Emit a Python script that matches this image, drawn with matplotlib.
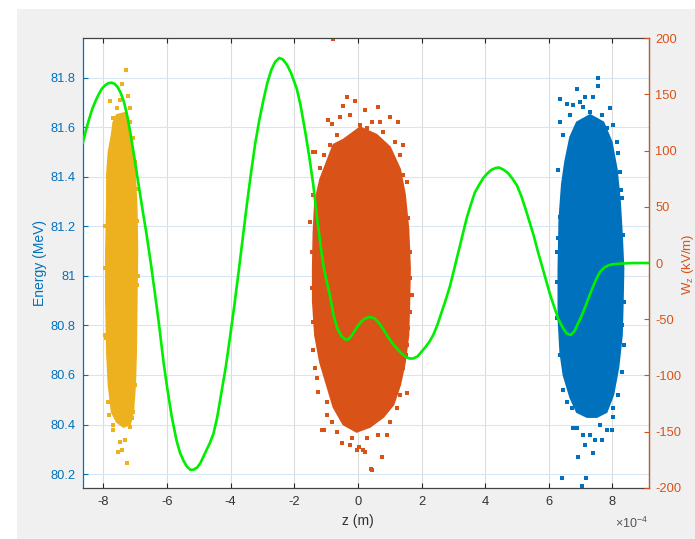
import matplotlib
matplotlib.use('Agg')
import matplotlib.pyplot as plt
from matplotlib.patches import Rectangle

plt.rcParams['font.family'] = ['Liberation Sans', 'DejaVu Sans']
plt.rcParams['mathtext.default'] = 'regular'

# ---------------- data (z in units of 1e-4 m) ----------------
wake_z = [-8.65, -8.55, -8.45, -8.35, -8.25, -8.15, -8.05, -7.95, -7.85, -7.74,
          -7.65, -7.55, -7.45, -7.35, -7.25, -7.16, -7.05, -6.95, -6.85, -6.75,
          -6.64, -6.50, -6.38, -6.25, -6.11, -6.00, -5.85, -5.70, -5.59, -5.48,
          -5.38, -5.27, -5.17, -5.05, -4.95, -4.85, -4.75, -4.65, -4.54, -4.42,
          -4.30, -4.15, -4.02, -3.88, -3.75, -3.62, -3.49, -3.36, -3.23, -3.10,
          -2.97, -2.85, -2.72, -2.60, -2.47, -2.35, -2.22, -2.10, -1.92, -1.80,
          -1.65, -1.52, -1.40, -1.29, -1.18, -1.08, -0.97, -0.87, -0.77, -0.65,
          -0.52, -0.40, -0.30, -0.18, -0.05, 0.08, 0.20, 0.35, 0.51, 0.65,
          0.80, 0.95, 1.10, 1.22, 1.35, 1.50, 1.62, 1.74, 1.88, 2.00,
          2.12, 2.25, 2.37, 2.50, 2.63, 2.77, 2.90, 3.03, 3.16, 3.29,
          3.42, 3.55, 3.68, 3.82, 3.95, 4.08, 4.20, 4.32, 4.44, 4.58,
          4.72, 4.86, 5.00, 5.13, 5.26, 5.39, 5.52, 5.65, 5.78, 5.91,
          6.04, 6.18, 6.30, 6.45, 6.57, 6.69, 6.80, 6.90, 7.00, 7.09,
          7.20, 7.35, 7.48, 7.61, 7.75, 7.88, 8.03, 8.30, 8.66, 9.15]
wake_W = [106.5, 118, 128, 137, 144, 150, 155, 158, 160, 160.5,
          159.5, 156.5, 151, 143, 131, 117, 98, 80, 62, 44,
          25, -2, -27, -55, -88, -110, -137, -158, -169, -176,
          -181, -184, -184, -182, -178, -172, -166, -160, -152, -137,
          -117, -92, -66, -37, -8, 22, 52, 80, 106, 127,
          145, 160, 172, 179, 182.5, 181, 176, 169, 155, 140,
          116, 93, 69, 42, 17, -3, -18, -30, -46, -58,
          -65, -68, -68, -64, -58, -53, -50, -48, -49, -53,
          -59, -66, -72, -76, -80, -83.5, -85, -85, -83, -79,
          -75, -70, -64, -55, -44, -32, -20, -5, 10, 25,
          40, 52, 63, 70, 76, 80, 83, 84.5, 85, 83,
          80, 75, 69, 60, 49, 37, 25, 11, -2, -15,
          -28, -40, -50, -58, -63, -64, -61, -55, -49, -43,
          -35, -24, -15, -8, -4, -2, -1, -0.5, 0, 0]

yellow_core_z = [-7.58, -7.27, -7.16, -7.06, -7.00, -6.95, -6.93, -6.95, -6.97, -7.00,
                 -7.06, -7.16, -7.37, -7.58, -7.74, -7.84, -7.89, -7.92, -7.92, -7.89,
                 -7.89, -7.84, -7.74, -7.69]
yellow_core_E = [81.65, 81.66, 81.58, 81.50, 81.41, 81.27, 81.10, 80.90, 80.69, 80.56,
                 80.45, 80.40, 80.39, 80.41, 80.45, 80.56, 80.69, 80.90, 81.10, 81.30,
                 81.41, 81.50, 81.57, 81.62]
yellow_dots_z = [-7.30, -7.40, -7.23, -7.79, -7.48, -7.58, -7.16, -7.06, -7.00, -7.69,
                 -7.48, -7.32, -7.42, -7.27, -7.53, -7.16, -7.06, -7.00, -7.81, -7.94,
                 -6.92, -7.93, -6.94, -7.95, -7.95, -6.93, -6.93, -7.69, -7.16, -7.69,
                 -7.11, -7.84]
yellow_dots_E = [81.831, 81.773, 81.726, 81.707, 81.71, 81.676, 81.676, 81.555, 81.46, 80.378,
                 80.33, 80.337, 80.297, 80.243, 80.29, 80.391, 80.452, 80.56, 80.438, 81.2,
                 81.0, 80.75, 81.35, 81.031, 80.76, 80.963, 81.22, 81.636, 81.622, 80.398,
                 80.425, 80.492]

orange_core_z = [-0.46, 0.07, 0.59, 1.01, 1.33, 1.48, 1.59, 1.64, 1.62, 1.59,
                 1.48, 1.33, 1.12, 0.80, 0.38, -0.04, -0.46, -0.77, -0.98, -1.19,
                 -1.35, -1.42, -1.42, -1.40, -1.35, -1.19, -0.98, -0.77]
orange_core_E = [81.55, 81.60, 81.57, 81.52, 81.43, 81.33, 81.19, 81.03, 80.90, 80.76,
                 80.65, 80.56, 80.48, 80.43, 80.39, 80.37, 80.40, 80.47, 80.56, 80.65,
                 80.76, 80.90, 81.03, 81.17, 81.30, 81.39, 81.46, 81.53]
orange_dots_z = [-0.35, -0.09, -0.46, -0.82, -0.56, -0.25, 0.23, 0.64, 1.01, 1.27,
                 0.44, -1.35, -1.08, -1.50, -1.40, 1.43, 1.54, 1.59, 1.64, 1.64,
                 1.59, 1.54, 1.43, 1.54, 1.33, -1.08, -0.82, -0.51, -0.19, 0.02,
                 0.17, 0.44, 0.75, 0.91, 0.64, -1.35, -1.40, -1.24, -0.79, -0.93,
                 -1.40, -1.45, -1.29, -0.98, -1.13, -0.03, 0.41, 0.23,
                 -1.19, -0.87, -0.66, 0.28, 0.80, 1.17, 1.33, 0.70, 0.07, 1.43,
                 -1.45, -1.45, -1.42, 1.54, 1.69, 1.64, 1.52,
                 -0.98, -0.66, -0.25, 0.28, 1.01, 1.22]
orange_dots_E = [81.723, 81.707, 81.687, 81.612, 81.643, 81.649, 81.670, 81.683, 81.643, 81.620,
                 81.622, 81.501, 81.488, 81.219, 81.326, 81.528, 81.380, 81.232, 81.098, 80.990,
                 80.788, 80.721, 80.627, 80.526, 80.519, 80.378, 80.411, 80.324, 80.344, 80.310,
                 80.297, 80.216, 80.270, 80.357, 80.357, 80.627, 80.701, 80.532, 81.956, 81.629,
                 81.501, 81.098, 80.586, 80.438, 80.378, 80.297, 80.22, 80.29,
                 81.434, 81.528, 81.569, 81.596, 81.582, 81.542, 81.488, 81.622, 81.609, 81.407,
                 81.098, 80.950, 80.815, 81.165, 80.923, 80.855, 80.68,
                 80.492, 80.371, 80.317, 80.344, 80.411, 80.465]

blue_core_z = [6.88, 7.30, 7.72, 7.98, 8.14, 8.24, 8.30, 8.35, 8.33, 8.30,
               8.19, 8.03, 7.82, 7.51, 7.20, 6.88, 6.67, 6.46, 6.36, 6.30,
               6.30, 6.33, 6.41, 6.51, 6.67]
blue_core_E = [81.62, 81.65, 81.62, 81.54, 81.43, 81.30, 81.17, 81.03, 80.90, 80.76,
               80.63, 80.52, 80.45, 80.43, 80.43, 80.45, 80.51, 80.60, 80.69, 80.83,
               81.03, 81.23, 81.37, 81.46, 81.56]
blue_dots_z = [7.56, 7.54, 6.88, 7.14, 7.40, 6.99, 6.77, 6.57, 6.36, 7.93,
               8.03, 8.14, 8.19, 8.24, 8.26, 8.30, 6.36, 6.30, 6.36, 6.30,
               6.25, 8.35, 8.30, 8.19, 8.03, 7.98, 7.82, 7.67, 7.40, 6.93,
               7.14, 7.09, 6.77, 6.72, 6.57, 6.46, 6.41, 7.17, 7.04,
               6.67, 7.09, 7.67, 7.82, 6.46, 7.30, 6.27, 6.27, 6.36, 8.33,
               8.37, 8.30, 6.88, 7.30, 7.61, 8.03, 7.46]
blue_dots_E = [81.798, 81.766, 81.753, 81.723, 81.723, 81.703, 81.690, 81.693, 81.713, 81.679,
               81.609, 81.542, 81.495, 81.420, 81.347, 81.313, 81.622, 81.427, 81.239, 81.152,
               80.976, 80.721, 80.613, 80.519, 80.431, 80.378, 80.378, 80.337, 80.284, 80.270,
               80.317, 80.357, 80.385, 80.465, 80.492, 80.539, 80.183, 80.183, 80.15,
               81.649, 81.683, 81.649, 81.596, 81.569, 81.66, 81.098, 80.829, 80.68, 81.165,
               80.896, 80.80, 80.385, 80.357, 80.398, 80.465, 80.337]

x_ticks = [-8, -6, -4, -2, 0, 2, 4, 6, 8]
e_ticks = [80.2, 80.4, 80.6, 80.8, 81.0, 81.2, 81.4, 81.6, 81.8]
e_tick_labels = ['80.2', '80.4', '80.6', '80.8', '81', '81.2', '81.4', '81.6', '81.8']
w_ticks = [-200, -150, -100, -50, 0, 50, 100, 150, 200]

# ---------------- style ----------------
C_BLUE = '#0072BD'
C_ORANGE = '#D95319'
C_YELLOW = '#EDB120'
C_AX = '#262626'

fig = plt.figure(figsize=(6.95, 5.39), dpi=100, facecolor='white')
fig.patches.append(Rectangle((17 / 695, 0), 1, (539 - 9) / 539, transform=fig.transFigure,
                             facecolor='#f0f0f0', edgecolor='none', zorder=-10))

ax = fig.add_axes([82.7 / 695, (539 - 487.7) / 539, (649 - 82.7) / 695, (487.7 - 38.3) / 539])
ax.set_facecolor('white')
ax.set_axisbelow(True)

for cz, cE, dz, dE, col in [(yellow_core_z, yellow_core_E, yellow_dots_z, yellow_dots_E, C_YELLOW),
                            (orange_core_z, orange_core_E, orange_dots_z, orange_dots_E, C_ORANGE),
                            (blue_core_z, blue_core_E, blue_dots_z, blue_dots_E, C_BLUE)]:
    ax.fill(cz, cE, facecolor=col, edgecolor=col, linewidth=1.2, zorder=2)
    ax.scatter(dz, dE, s=5, marker='s', color=col, linewidths=0, zorder=2)

ax.set_xlim(-8.65, 9.15)
ax.set_ylim(80.145, 81.959)
ax.set_xticks(x_ticks)
ax.set_xticklabels([str(t) for t in x_ticks])
ax.set_yticks(e_ticks)
ax.set_yticklabels(e_tick_labels)

ax.xaxis.grid(True, color='#dcdcdc', linewidth=0.8)
ax.yaxis.grid(True, color='#d6e6f2', linewidth=0.8)

ax.tick_params(axis='x', direction='in', length=3.8, width=0.8, colors=C_AX,
               labelsize=9.3, pad=6, top=True, labelcolor='#333333')
ax.tick_params(axis='y', direction='in', length=3.8, width=0.8, colors=C_BLUE,
               labelsize=9.3, pad=5, right=False)
for s in ['top', 'bottom']:
    ax.spines[s].set_color('#444444')
    ax.spines[s].set_linewidth(0.9)
ax.spines['left'].set_color(C_BLUE)
ax.spines['left'].set_linewidth(0.9)

ax2 = ax.twinx()
ax2.plot(wake_z, wake_W, color='#00ee00', linewidth=1.9, solid_joinstyle='round',
         solid_capstyle='round', zorder=3)
ax2.set_ylim(-200, 200)
ax2.set_yticks(w_ticks)
ax2.set_yticklabels([str(t) for t in w_ticks])
ax2.tick_params(axis='y', direction='in', length=3.8, width=0.8, colors=C_ORANGE,
                labelsize=9.3, pad=4.5)
ax2.spines['right'].set_color(C_ORANGE)
ax2.spines['right'].set_linewidth(0.9)
ax2.spines['left'].set_visible(False)
for s in ['top', 'bottom']:
    ax2.spines[s].set_visible(False)

fig.text(40 / 695, 1 - 263 / 539, 'Energy (MeV)', rotation=90, ha='center', va='center',
         fontsize=10, color=C_BLUE)
fig.text(688 / 695, 1 - 264 / 539, 'W$_z$ (kV/m)', rotation=90, ha='center', va='center',
         fontsize=9.5, color=C_ORANGE)
fig.text(358 / 695, 1 - 521 / 539, 'z (m)', ha='center', va='center', fontsize=10, color='#333333')
fig.text(615 / 695, 1 - 528 / 539, '×10$^{-4}$', ha='left', va='baseline', fontsize=9,
         color='#555555')

fig.savefig('out.png', dpi=100, facecolor=fig.get_facecolor())
